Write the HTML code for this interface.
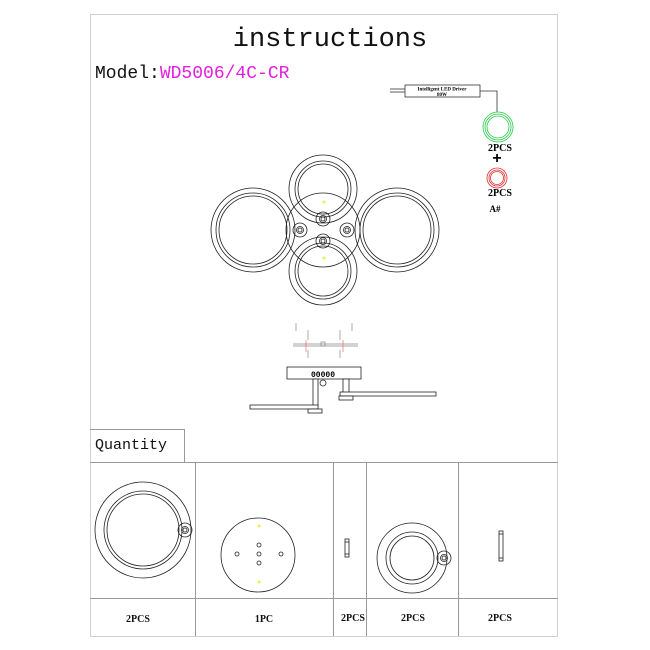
<!DOCTYPE html>
<html><head><meta charset="utf-8"><style>
html,body{margin:0;padding:0;background:#fff;}
svg{display:block}
</style></head><body>
<svg width="650" height="650" viewBox="0 0 650 650" xmlns="http://www.w3.org/2000/svg">
<rect x="0" y="0" width="650" height="650" fill="#fff"/>
<rect x="90.5" y="14.5" width="467" height="622" fill="none" stroke="#d0d0d0" stroke-width="1"/>
<text x="330" y="46" text-anchor="middle" font-family="Liberation Mono, monospace" font-size="27" fill="#111">instructions</text>
<text x="95" y="78" font-family="Liberation Mono, monospace" font-size="18" fill="#111">Model:<tspan fill="#e020e0">WD5006/4C-CR</tspan></text>

<!-- driver -->
<g stroke="#333" fill="none" stroke-width="0.8">
<line x1="390" y1="89" x2="405" y2="89"/><line x1="390" y1="92" x2="405" y2="92"/>
<rect x="405" y="85" width="75" height="12" fill="#fff"/>
<polyline points="480,91 497,91 497,112"/>
</g>
<text x="442" y="90.5" text-anchor="middle" font-family="Liberation Serif, serif" font-size="5" font-weight="bold">Intelligent LED Driver</text>
<text x="442" y="96" text-anchor="middle" font-family="Liberation Serif, serif" font-size="5" font-weight="bold">80W</text>
<g fill="none" stroke="#22cc44" stroke-width="0.8">
<circle cx="498" cy="127" r="15"/><circle cx="498" cy="127" r="13"/><circle cx="498" cy="127" r="11"/>
</g>
<text x="500" y="151" text-anchor="middle" font-family="Liberation Serif, serif" font-size="10" font-weight="bold">2PCS</text>
<text x="497" y="163" text-anchor="middle" font-family="Liberation Sans, sans-serif" font-size="16" font-weight="bold">+</text>
<g fill="none" stroke="#e03030" stroke-width="0.8">
<circle cx="497" cy="178" r="10"/><circle cx="497" cy="178" r="8"/><circle cx="497" cy="178" r="6.5"/>
</g>
<text x="500" y="196" text-anchor="middle" font-family="Liberation Serif, serif" font-size="10" font-weight="bold">2PCS</text>
<text x="495" y="212" text-anchor="middle" font-family="Liberation Serif, serif" font-size="9" font-weight="bold">A#</text>

<!-- main drawing -->
<g fill="none" stroke="#222" stroke-width="0.8">
<circle cx="253" cy="230" r="42"/><circle cx="253" cy="230" r="37"/><circle cx="253" cy="230" r="34"/>
<circle cx="397" cy="230" r="42"/><circle cx="397" cy="230" r="37"/><circle cx="397" cy="230" r="34"/>
<circle cx="323" cy="189" r="34"/><circle cx="323" cy="189" r="28"/><circle cx="323" cy="189" r="25"/>
<circle cx="323" cy="271" r="34"/><circle cx="323" cy="271" r="28"/><circle cx="323" cy="271" r="25"/>
<circle cx="323" cy="230" r="37"/>
<circle cx="323" cy="219" r="7"/><circle cx="323" cy="219" r="3.5"/><circle cx="323" cy="219" r="2"/>
<circle cx="323" cy="241" r="7"/><circle cx="323" cy="241" r="3.5"/><circle cx="323" cy="241" r="2"/>
<circle cx="300" cy="230" r="7"/><circle cx="300" cy="230" r="3.5"/><circle cx="300" cy="230" r="2"/>
<circle cx="347" cy="230" r="7"/><circle cx="347" cy="230" r="3.5"/><circle cx="347" cy="230" r="2"/>
</g>
<circle cx="324" cy="202" r="1.5" fill="#ee4"/><circle cx="324" cy="258" r="1.5" fill="#ee4"/>

<!-- small side detail -->
<g stroke="#888" fill="none" stroke-width="0.7">
<line x1="293" y1="344" x2="358" y2="344"/><line x1="293" y1="346" x2="358" y2="346"/>
<rect x="321" y="342" width="4" height="4"/>
<line x1="308" y1="330" x2="308" y2="340"/><line x1="340" y1="330" x2="340" y2="340"/>
<line x1="308" y1="350" x2="308" y2="358"/><line x1="340" y1="350" x2="340" y2="358"/>
<line x1="296" y1="323" x2="296" y2="331"/><line x1="352" y1="323" x2="352" y2="331"/>
</g>
<line x1="306" y1="340" x2="306" y2="352" stroke="#e55" stroke-width="0.6"/>
<line x1="343" y1="340" x2="343" y2="352" stroke="#e55" stroke-width="0.6"/>

<!-- side view -->
<g stroke="#222" fill="#fff" stroke-width="0.8">
<rect x="287" y="367" width="74" height="12"/>
<rect x="313" y="379" width="5" height="27"/>
<rect x="250" y="405" width="68" height="4"/>
<rect x="308" y="409" width="14" height="4"/>
<rect x="343" y="379" width="6" height="14"/>
<rect x="340" y="392" width="96" height="4"/>
<rect x="339" y="396" width="14" height="4"/>
<circle cx="323" cy="383" r="3"/>
</g>
<text x="323" y="377" text-anchor="middle" font-family="Liberation Mono, monospace" font-size="8" font-weight="bold">00000</text>

<!-- table -->
<g stroke="#999" stroke-width="1" fill="none">
<line x1="90" y1="462.5" x2="558" y2="462.5"/>
<line x1="90" y1="598.5" x2="558" y2="598.5"/>
<line x1="184.5" y1="429" x2="184.5" y2="462"/>
<line x1="90" y1="429.5" x2="184" y2="429.5"/>
<line x1="195.5" y1="462" x2="195.5" y2="636"/>
<line x1="333.5" y1="462" x2="333.5" y2="636"/>
<line x1="366.5" y1="462" x2="366.5" y2="636"/>
<line x1="458.5" y1="462" x2="458.5" y2="636"/>
</g>
<text x="95" y="449" font-family="Liberation Mono, monospace" font-size="15" fill="#111">Quantity</text>

<g fill="none" stroke="#222" stroke-width="0.8">
<circle cx="143" cy="530" r="48"/><circle cx="143" cy="530" r="39"/><circle cx="143" cy="530" r="36"/>
<circle cx="185" cy="530" r="7"/><circle cx="185" cy="530" r="3.5"/><circle cx="185" cy="530" r="2"/>
<circle cx="258" cy="555" r="37"/>
<circle cx="259" cy="545" r="2"/><circle cx="259" cy="554" r="2"/><circle cx="259" cy="563" r="2"/>
<circle cx="237" cy="554" r="2"/><circle cx="281" cy="554" r="2"/>
<rect x="345" y="539" width="4" height="18"/>
<line x1="345" y1="542" x2="349" y2="542"/><line x1="345" y1="554" x2="349" y2="554"/>
<circle cx="412" cy="558" r="35"/><circle cx="412" cy="558" r="26"/><circle cx="412" cy="558" r="22"/>
<circle cx="444" cy="558" r="7"/><circle cx="444" cy="558" r="3.5"/><circle cx="444" cy="558" r="2"/>
<rect x="499" y="531" width="4" height="30"/>
<line x1="499" y1="534" x2="503" y2="534"/><line x1="499" y1="558" x2="503" y2="558"/>
</g>
<circle cx="259" cy="526" r="1.5" fill="#ee4"/><circle cx="259" cy="582" r="1.5" fill="#ee4"/>

<g font-family="Liberation Serif, serif" font-size="10" font-weight="bold" text-anchor="middle" fill="#111">
<text x="138" y="622">2PCS</text>
<text x="264" y="622">1PC</text>
<text x="353" y="621">2PCS</text>
<text x="413" y="621">2PCS</text>
<text x="500" y="621">2PCS</text>
</g>
</svg>
</body></html>
